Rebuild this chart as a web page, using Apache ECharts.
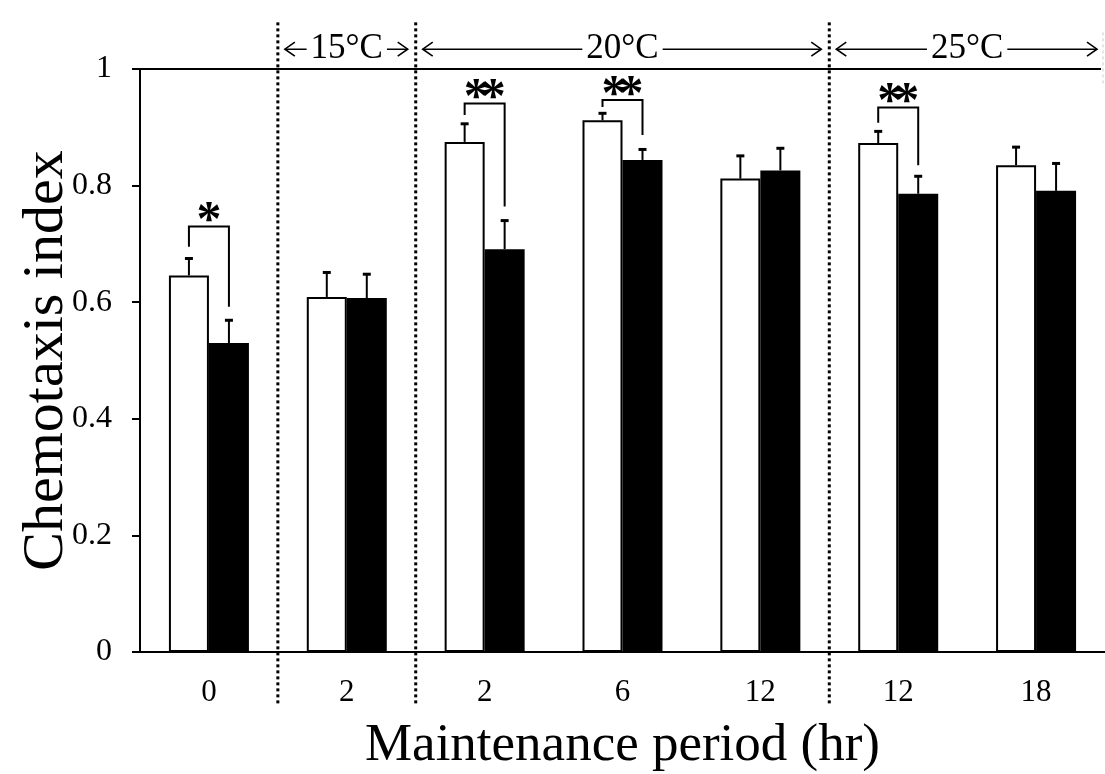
<!DOCTYPE html>
<html>
<head>
<meta charset="utf-8">
<script src="https://cdn.jsdelivr.net/npm/echarts@6/dist/echarts.min.js"></script>
<style>
  html, body { margin: 0; padding: 0; background: #fff; }
  #chart { width: 1105px; height: 774px; }
</style>
</head>
<body>
<div id="chart"></div>
<script>
// maintenance period per group (hr)
const categories = ['0', '2', '2', '6', '12', '12', '18'];

// white bars / black bars, mean and upper error
const whiteMean = [0.646, 0.609, 0.875, 0.912, 0.812, 0.873, 0.835];
const whiteErr = [0.029, 0.042, 0.031, 0.012, 0.039, 0.020, 0.031];
const blackMean = [0.530, 0.607, 0.691, 0.844, 0.826, 0.786, 0.791];
const blackErr = [0.039, 0.041, 0.049, 0.018, 0.038, 0.030, 0.047];

// significance brackets
const sigIndex = [0, 2, 3, 5];
const sigStars = [1, 2, 2, 2];
const sigTop = [0.73, 0.941, 0.947, 0.934];
const sigLeftEnd = [0.695, 0.921, 0.935, 0.908];
const sigRightEnd = [0.592, 0.764, 0.887, 0.835];

// temperature sections (boundaries between categories)
const dividers = [0.5, 1.5, 4.5];
const tempStart = [0.5, 1.5, 4.5];
const tempEnd = [1.5, 4.5, 6.5];
const tempLabel = ['15°C', '20°C', '25°C'];

const FONT = 'Liberation Serif';
const HALF_BAR = 20;

function errorSeries(mean, err, side) {
    return {
        type: 'custom',
        xAxisIndex: 0,
        yAxisIndex: 0,
        clip: false,
        z: 5,
        data: mean.map((m, i) => [i, m, err[i]]),
        encode: { x: 0, y: 1 },
        renderItem: function (params, api) {
            const base = api.coord([api.value(0), api.value(1)]);
            const top = api.coord([api.value(0), api.value(1) + api.value(2)]);
            const cx = base[0] + side * HALF_BAR;
            return {
                type: 'group',
                children: [
                    { type: 'line', shape: { x1: cx, y1: base[1], x2: cx, y2: top[1] },
                      style: { stroke: '#000', lineWidth: 2 } },
                    { type: 'line', shape: { x1: cx - 4, y1: top[1], x2: cx + 4, y2: top[1] },
                      style: { stroke: '#000', lineWidth: 3 } }
                ]
            };
        }
    };
}

const chart = echarts.init(document.getElementById('chart'));

const option = {
    animation: false,
    backgroundColor: '#fff',
    grid: { left: 140, right: 0, top: 69, bottom: 122, outerBoundsMode: 'none' },
    xAxis: [
        {
            type: 'category',
            data: categories,
            axisLine: { lineStyle: { color: '#000', width: 2 } },
            axisTick: { show: false },
            axisLabel: { color: '#000', fontFamily: FONT, fontSize: 31, margin: 25 },
            name: 'Maintenance period (hr)',
            nameLocation: 'middle',
            nameGap: 68,
            nameTextStyle: { color: '#000', fontFamily: FONT, fontSize: 53 }
        },
        { type: 'value', min: -0.5, max: 6.5, show: false }
    ],
    yAxis: {
        type: 'value',
        min: 0,
        max: 1,
        interval: 0.2,
        axisLine: { show: true, onZero: false, lineStyle: { color: '#000', width: 2 } },
        axisTick: { show: true, length: 8, lineStyle: { color: '#000', width: 2 } },
        axisLabel: { color: '#000', fontFamily: FONT, fontSize: 32, margin: 28 },
        splitLine: { show: false },
        name: 'Chemotaxis index',
        nameLocation: 'middle',
        nameGap: 64,
        nameMoveOverlap: false,
        nameTextStyle: { color: '#000', fontFamily: FONT, fontSize: 58 }
    },
    series: [
        {
            type: 'bar',
            data: whiteMean,
            barWidth: 40,
            barGap: '0%',
            itemStyle: { color: '#fff', borderColor: '#000', borderWidth: 2 }
        },
        {
            type: 'bar',
            data: blackMean,
            barWidth: 40,
            barGap: '0%',
            itemStyle: { color: '#000', borderColor: '#000', borderWidth: 2 }
        },
        errorSeries(whiteMean, whiteErr, -1),
        errorSeries(blackMean, blackErr, 1),
        {
            // top border at 1
            type: 'custom',
            xAxisIndex: 1,
            clip: false,
            data: [[-0.5, 1]],
            renderItem: function (params, api) {
                const a = api.coord([-0.5, 1]);
                const b = api.coord([6.5, 1]);
                return { type: 'line', shape: { x1: a[0], y1: a[1], x2: b[0] - 4, y2: b[1] },
                         style: { stroke: '#000', lineWidth: 2 } };
            }
        },
        {
            // significance brackets
            type: 'custom',
            xAxisIndex: 1,
            clip: false,
            z: 6,
            data: sigIndex.map((c, i) => [c, sigTop[i], sigLeftEnd[i], sigRightEnd[i], sigStars[i]]),
            renderItem: function (params, api) {
                const c = api.value(0);
                const top = api.coord([c, api.value(1)]);
                const left = api.coord([c, api.value(2)]);
                const right = api.coord([c, api.value(3)]);
                const xl = top[0] - HALF_BAR, xr = top[0] + HALF_BAR;
                const n = sigStars[params.dataIndex];
                const children = [
                    { type: 'polyline',
                      shape: { points: [[xl, left[1]], [xl, top[1]], [xr, top[1]], [xr, right[1]]] },
                      style: { stroke: '#000', lineWidth: 2, fill: null } }
                ];
                for (let k = 0; k < n; k++) {
                    children.push({ type: 'text',
                        style: { text: '*', x: top[0] + (k - (n - 1) / 2) * 17, y: top[1] - 4,
                                 align: 'center', verticalAlign: 'middle',
                                 font: 'bold 50px "Liberation Serif"', fill: '#000' } });
                }
                return { type: 'group', children: children };
            }
        },
        {
            // dotted dividers between temperatures
            type: 'custom',
            xAxisIndex: 1,
            clip: false,
            z: 1,
            data: dividers.map(d => [d]).concat([[6.5]]),
            renderItem: function (params, api) {
                const x = api.value(0);
                const a = api.coord([x, 1.08]);
                const b = api.coord([x, -0.092]);
                const edge = x > 6;
                const px = edge ? a[0] - 2 : a[0];
                return { type: 'line', shape: { x1: px, y1: edge ? a[1] + 10 : a[1], x2: px, y2: edge ? api.coord([x, 0.97])[1] : b[1] },
                         style: { stroke: edge ? '#ccc' : '#000', lineWidth: edge ? 1 : 3, lineDash: [3, 3] } };
            }
        },
        {
            // temperature sections with arrows
            type: 'custom',
            xAxisIndex: 1,
            clip: false,
            z: 7,
            data: tempStart.map((s, i) => [s, tempEnd[i]]),
            renderItem: function (params, api) {
                const a = api.coord([api.value(0), 1.034]);
                const b = api.coord([api.value(1), 1.034]);
                const y = a[1];
                const x1 = a[0] + 7, x2 = b[0] - 8;
                const arrow = { stroke: '#000', lineWidth: 1.6, fill: null };
                return {
                    type: 'group',
                    children: [
                        { type: 'line', shape: { x1: x1, y1: y, x2: x2, y2: y }, style: arrow },
                        { type: 'polyline', shape: { points: [[x1 + 10, y - 7], [x1, y], [x1 + 10, y + 7]] }, style: arrow },
                        { type: 'polyline', shape: { points: [[x2 - 10, y - 7], [x2, y], [x2 - 10, y + 7]] }, style: arrow },
                        { type: 'text', z2: 10,
                          style: { text: tempLabel[params.dataIndex], x: (a[0] + b[0]) / 2, y: y,
                                   align: 'center', verticalAlign: 'middle',
                                   font: '35px "Liberation Serif"', fill: '#000',
                                   backgroundColor: '#fff', padding: [0, 4] } }
                    ]
                };
            }
        }
    ]
};

chart.setOption(option);
</script>
</body>
</html>
